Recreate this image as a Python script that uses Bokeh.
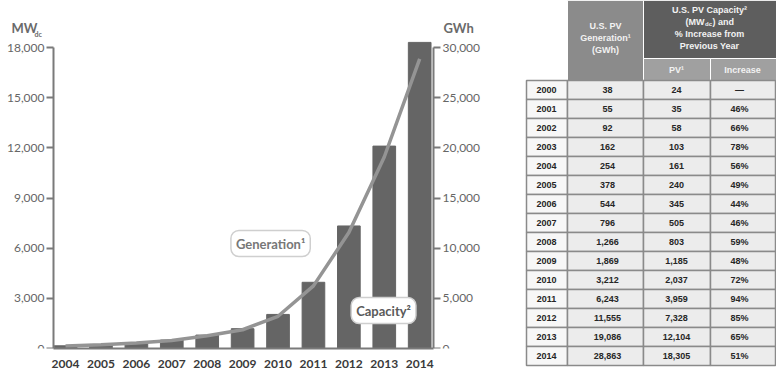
from bokeh.plotting import figure
from bokeh.layouts import row, column
from bokeh.models import Range1d, LinearAxis, FixedTicker, Label, CustomJSTickFormatter
from bokeh.core.properties import value
from bokeh.embed import file_html
from bokeh.resources import INLINE

# Chart series (2004-2014)
chart_years = [2004, 2005, 2006, 2007, 2008, 2009, 2010, 2011, 2012, 2013, 2014]
capacity_mw = [161, 240, 345, 505, 803, 1185, 2037, 3959, 7328, 12104, 18305]
generation_gwh = [254, 378, 544, 796, 1266, 1869, 3212, 6243, 11555, 19086, 28863]

# Table data (2000-2014)
table_years = ["2000", "2001", "2002", "2003", "2004", "2005", "2006", "2007",
               "2008", "2009", "2010", "2011", "2012", "2013", "2014"]
table_generation = ["38", "55", "92", "162", "254", "378", "544", "796",
                    "1,266", "1,869", "3,212", "6,243", "11,555", "19,086", "28,863"]
table_pv = ["24", "35", "58", "103", "161", "240", "345", "505",
            "803", "1,185", "2,037", "3,959", "7,328", "12,104", "18,305"]
table_increase = ["\u2014", "46%", "66%", "78%", "56%", "49%", "44%", "46%",
                  "59%", "48%", "72%", "94%", "85%", "65%", "51%"]

left_ticks = [0, 3000, 6000, 9000, 12000, 15000, 18000]
right_ticks = [0, 5000, 10000, 15000, 20000, 25000, 30000]

FONT = "Lato"
AXIS_GREY = "#7a7a7a"

# Year axis spans 2003.66..2014.39 between the two value axes; the frame is
# widened so the unit titles beside the axes sit inside it.
X0, X1 = 2003.66, 2014.39
PX_PER_YEAR = 380 / (X1 - X0)
Y_TOP = 18000 * 348 / 301
Y2_TOP = 30000 * 348 / 301

p = figure(width=490, height=375, output_backend="svg", toolbar_location=None,
           x_range=Range1d(X0 - 53 / PX_PER_YEAR, X1 + 57 / PX_PER_YEAR),
           y_range=Range1d(0, Y_TOP),
           min_border_left=0, min_border_right=0, min_border_top=0, min_border_bottom=27)
p.outline_line_color = None
p.grid.grid_line_color = None
p.background_fill_color = "white"
p.border_fill_color = "white"

p.extra_y_ranges = {"gwh": Range1d(0, Y2_TOP)}

p.vbar(x=chart_years, top=capacity_mw, width=0.64, color="#656565")
p.line(x=chart_years, y=generation_gwh, y_range_name="gwh",
       line_color="#949494", line_width=3.5)

fmt = CustomJSTickFormatter(code="return tick.toLocaleString('en-US');")


def style_y_axis(ax):
    ax.minor_tick_line_color = None
    ax.major_tick_out = 7
    ax.major_tick_in = 0
    ax.axis_line_color = AXIS_GREY
    ax.axis_line_width = 2
    ax.major_tick_line_color = AXIS_GREY
    ax.major_tick_line_width = 2
    ax.major_label_text_font = FONT
    ax.major_label_text_font_size = "12px"
    ax.major_label_text_color = "#666666"
    ax.major_label_standoff = 2


ya = p.yaxis[0]
ya.ticker = FixedTicker(ticks=left_ticks)
ya.formatter = fmt
ya.bounds = (0, 18000)
ya.fixed_location = X0
style_y_axis(ya)

ra = LinearAxis(y_range_name="gwh", ticker=FixedTicker(ticks=right_ticks), formatter=fmt,
                bounds=(0, 30000), fixed_location=X1)
style_y_axis(ra)
p.add_layout(ra, "right")

xa = p.xaxis[0]
xa.ticker = FixedTicker(ticks=chart_years)
xa.formatter = CustomJSTickFormatter(code="return String(tick);")
xa.bounds = (X0, X1)
xa.minor_tick_line_color = None
xa.major_tick_line_color = None
xa.axis_line_color = AXIS_GREY
xa.axis_line_width = 2
xa.major_label_text_font = FONT
xa.major_label_text_font_size = "12px"
xa.major_label_text_font_style = "bold"
xa.major_label_text_color = "#3a3a3a"
xa.major_label_standoff = 5

# Axis unit titles
unit_kw = dict(text_font=FONT, text_font_style="bold", text_color="#6a6a6a",
               text_baseline="middle")
p.add_layout(Label(x=X0 - 42 / PX_PER_YEAR, y=19196, text="MW", text_font_size="13px", **unit_kw))
p.add_layout(Label(x=X0 - 19 / PX_PER_YEAR, y=18830, text="dc", text_font_size="7px", **unit_kw))
p.add_layout(Label(x=X1 + 10 / PX_PER_YEAR, y=19196, text="GWh", text_font_size="13px", **unit_kw))

# Series callouts
p.add_layout(Label(x=2009.79, y=6279, text="Generation\u00b9", text_align="center",
                   text_baseline="middle", text_font=FONT, text_font_size="13px",
                   text_font_style="bold", text_color="#777777",
                   background_fill_color="white", border_line_color="#cfcfcf",
                   border_line_width=1.5, padding=5, border_radius=8))
p.add_layout(Label(x=2012.98, y=2272, text="Capacity\u00b2", text_align="center",
                   text_baseline="middle", text_font=FONT, text_font_size="13px",
                   text_font_style="bold", text_color="#5a5a5a",
                   background_fill_color="white", border_line_color="#cfcfcf",
                   border_line_width=1.5, padding=5, border_radius=8))

# ---- Table ----
t = figure(width=286, height=375, output_backend="svg", toolbar_location=None,
           x_range=Range1d(0, 286), y_range=Range1d(375, 0),
           min_border=0, min_border_left=0, min_border_right=0,
           min_border_top=0, min_border_bottom=0)
t.axis.visible = False
t.grid.grid_line_color = None
t.outline_line_color = None
t.background_fill_color = "white"
t.border_fill_color = "white"

col_left = [36, 77, 153, 220]
col_right = [77, 153, 220, 285]
header_bottom = 80
row_h = 19

# header blocks
t.quad(left=[77], right=[153], top=[0], bottom=[header_bottom], fill_color="#8b8b8b",
       line_color="white", line_width=1)
t.quad(left=[153], right=[286], top=[0], bottom=[58], fill_color="#5e5e5e",
       line_color="white", line_width=1)
t.quad(left=[153, 220], right=[220, 286], top=[58, 58], bottom=[header_bottom, header_bottom],
       fill_color="#a0a0a0", line_color="white", line_width=1)

hdr_kw = dict(text_font=value("Liberation Sans"), text_font_style="bold",
              text_font_size="9px", text_color="#f2f2f2", text_baseline="middle")
t.text(x=[115, 115, 115], y=[25, 37, 49], text=["U.S. PV", "Generation\u00b9", "(GWh)"],
       text_align="center", **hdr_kw)
t.text(x=[219, 219, 219], y=[9, 33, 45],
       text=["U.S. PV Capacity\u00b2", "% Increase from", "Previous Year"],
       text_align="center", **hdr_kw)
t.text(x=[214], y=[21], text=["(MW"], text_align="right", **hdr_kw)
t.text(x=[214.5], y=[23], text=["dc"], text_align="left",
       **{**hdr_kw, "text_font_size": "6px"})
t.text(x=[222], y=[21], text=[") and"], text_align="left", **hdr_kw)
t.text(x=[186, 252], y=[69, 69], text=["PV\u00b9", "Increase"], text_align="center", **hdr_kw)

# body cells
n = len(table_years)
tops = [header_bottom + i * row_h for i in range(n)]
bots = [tp + row_h for tp in tops]
t.quad(left=[col_left[0]] * n, right=[col_right[0]] * n, top=tops, bottom=bots,
       fill_color="#f7f7f7", line_color="#8a8a8a", line_width=1.5)
for c in range(1, 4):
    t.quad(left=[col_left[c]] * n, right=[col_right[c]] * n, top=tops, bottom=bots,
           fill_color="#ececec", line_color="#8a8a8a", line_width=1.5)

mids = [tp + row_h / 2 for tp in tops]
body_kw = dict(text_font=value("Liberation Sans"), text_font_style="bold",
               text_font_size="9px", text_color="#262626", text_align="center",
               text_baseline="middle")
t.text(x=[56] * n, y=mids, text=table_years, **body_kw)
t.text(x=[117] * n, y=mids, text=table_generation, **body_kw)
t.text(x=[186] * n, y=mids, text=table_pv, **body_kw)
t.text(x=[249] * n, y=mids, text=table_increase, **body_kw)

layout = row(p, column(t), spacing=0)
open("out.html", "w").write(file_html(layout, INLINE))
